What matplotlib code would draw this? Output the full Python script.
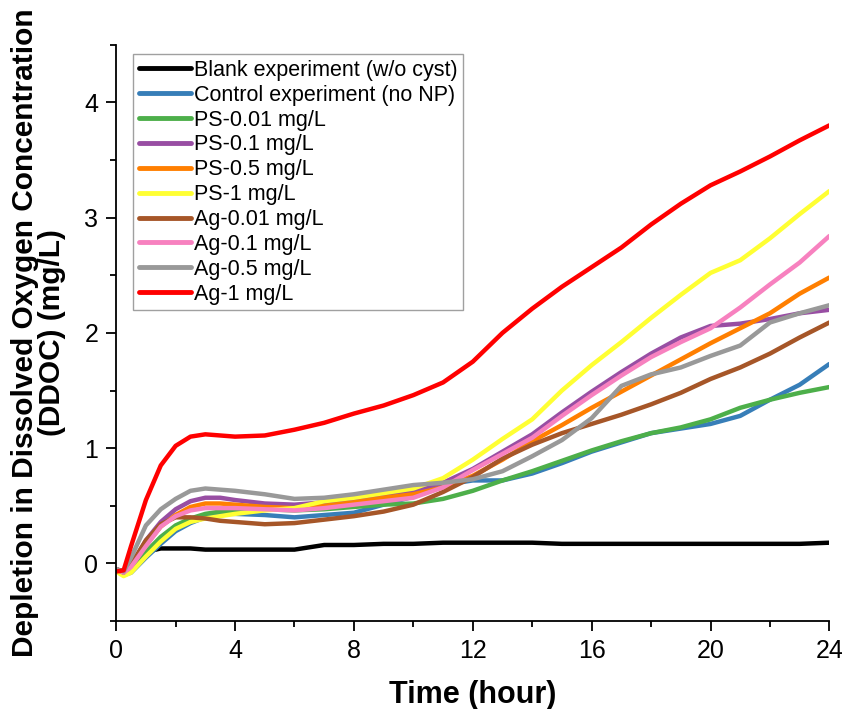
""" Depletion in dissolved oxygen concentration over 24 h """

import matplotlib
matplotlib.use('Agg')
import matplotlib.pyplot as plt
from matplotlib.ticker import MultipleLocator

# Data -----------------------------------------------------------
hours = [0, 0.25, 0.5, 1, 1.5, 2, 2.5, 3, 3.5, 4, 5, 6, 7, 8, 9, 10,
         11, 12, 13, 14, 15, 16, 17, 18, 19, 20, 21, 22, 23, 24]

blank = [-0.05, -0.07, -0.02, 0.10, 0.13, 0.13, 0.13, 0.12, 0.12, 0.12, 0.12,
         0.12, 0.16, 0.16, 0.17, 0.17, 0.18, 0.18, 0.18, 0.18, 0.17, 0.17,
         0.17, 0.17, 0.17, 0.17, 0.17, 0.17, 0.17, 0.18]
control = [-0.06, -0.10, -0.08, 0.05, 0.17, 0.28, 0.35, 0.40, 0.43, 0.43, 0.42,
           0.40, 0.42, 0.44, 0.51, 0.58, 0.68, 0.72, 0.72, 0.78, 0.87, 0.97,
           1.05, 1.13, 1.17, 1.21, 1.28, 1.42, 1.55, 1.73]
ps_001 = [-0.06, -0.09, -0.05, 0.10, 0.23, 0.33, 0.39, 0.43, 0.45, 0.46, 0.47,
          0.46, 0.47, 0.49, 0.51, 0.52, 0.56, 0.63, 0.72, 0.80, 0.89, 0.98,
          1.06, 1.13, 1.18, 1.25, 1.35, 1.42, 1.48, 1.53]
ps_01 = [-0.05, -0.08, -0.02, 0.20, 0.36, 0.47, 0.54, 0.57, 0.57, 0.55, 0.52,
         0.51, 0.53, 0.56, 0.59, 0.63, 0.70, 0.82, 0.97, 1.12, 1.31, 1.49,
         1.66, 1.82, 1.96, 2.06, 2.08, 2.12, 2.17, 2.20]
ps_05 = [-0.05, -0.08, -0.03, 0.16, 0.32, 0.42, 0.49, 0.52, 0.52, 0.51, 0.49,
         0.48, 0.50, 0.53, 0.57, 0.60, 0.66, 0.76, 0.90, 1.06, 1.20, 1.35,
         1.49, 1.63, 1.77, 1.91, 2.04, 2.17, 2.34, 2.48]
ps_1 = [-0.07, -0.11, -0.08, 0.06, 0.19, 0.30, 0.36, 0.39, 0.41, 0.43, 0.46,
        0.48, 0.54, 0.57, 0.61, 0.65, 0.74, 0.90, 1.08, 1.25, 1.50, 1.72,
        1.92, 2.13, 2.33, 2.52, 2.63, 2.82, 3.03, 3.23]
ag_001 = [-0.05, -0.08, -0.01, 0.20, 0.34, 0.40, 0.40, 0.39, 0.37, 0.36, 0.34,
          0.35, 0.38, 0.41, 0.45, 0.51, 0.62, 0.75, 0.91, 1.03, 1.13, 1.21,
          1.29, 1.38, 1.48, 1.60, 1.70, 1.82, 1.96, 2.09]
ag_01 = [-0.05, -0.08, -0.03, 0.15, 0.32, 0.41, 0.46, 0.48, 0.48, 0.48, 0.47,
         0.46, 0.48, 0.51, 0.54, 0.57, 0.66, 0.81, 0.95, 1.09, 1.28, 1.46,
         1.63, 1.79, 1.92, 2.04, 2.22, 2.42, 2.61, 2.84]
ag_05 = [-0.05, -0.07, 0.05, 0.33, 0.47, 0.56, 0.63, 0.65, 0.64, 0.63, 0.60,
         0.56, 0.57, 0.60, 0.64, 0.68, 0.70, 0.73, 0.80, 0.93, 1.07, 1.26,
         1.54, 1.64, 1.70, 1.80, 1.89, 2.09, 2.17, 2.24]
ag_1 = [-0.07, -0.06, 0.15, 0.55, 0.85, 1.02, 1.10, 1.12, 1.11, 1.10, 1.11,
        1.16, 1.22, 1.30, 1.37, 1.46, 1.57, 1.75, 2.00, 2.21, 2.40, 2.57,
        2.74, 2.94, 3.12, 3.28, 3.40, 3.53, 3.67, 3.80]

labels = ['Blank experiment (w/o cyst)', 'Control experiment (no NP)',
          'PS-0.01 mg/L', 'PS-0.1 mg/L', 'PS-0.5 mg/L', 'PS-1 mg/L',
          'Ag-0.01 mg/L', 'Ag-0.1 mg/L', 'Ag-0.5 mg/L', 'Ag-1 mg/L']
colors = ['#000000', '#377eb8', '#4daf4a', '#984ea3', '#ff7f00',
          '#ffff33', '#a65628', '#f781bf', '#999999', '#ff0000']
series = [blank, control, ps_001, ps_01, ps_05, ps_1,
          ag_001, ag_01, ag_05, ag_1]

# Figure -----------------------------------------------------------
narrow = ['Liberation Sans Narrow', 'Liberation Sans', 'DejaVu Sans']

fig = plt.figure(figsize=(8.42, 7.09), dpi=100)
ax = fig.add_axes([0.138, 0.124, 0.847, 0.813])

for values, color, label in zip(series, colors, labels):
    ax.plot(hours, values, color=color, lw=3.2, label=label,
            solid_capstyle='round', solid_joinstyle='round')

ax.set_xlim(0, 24)
ax.set_ylim(-0.5, 4.5)
ax.xaxis.set_major_locator(MultipleLocator(4))
ax.xaxis.set_minor_locator(MultipleLocator(2))
ax.yaxis.set_major_locator(MultipleLocator(1))
ax.yaxis.set_minor_locator(MultipleLocator(0.5))

for side in ['top', 'right']:
    ax.spines[side].set_visible(False)
for side in ['left', 'bottom']:
    ax.spines[side].set_linewidth(1.3)

ax.tick_params(which='major', direction='out', length=7, width=1.3,
               labelsize=18, pad=6)
ax.tick_params(which='minor', direction='out', length=4, width=1.3)
for lab in ax.get_xticklabels() + ax.get_yticklabels():
    lab.set_family(narrow)

ax.set_xlabel('Time (hour)', family=narrow, fontsize=22, fontweight='bold',
              labelpad=12)
ax.set_ylabel('Depletion in Dissolved Oxygen Concentration\n(DDOC) (mg/L)',
              family=narrow, fontsize=21.5, fontweight='bold', linespacing=0.95)
ax.yaxis.set_label_coords(-0.07, 0.5)

leg = ax.legend(loc='upper left', bbox_to_anchor=(0.024, 0.983),
                borderaxespad=0, fancybox=False,
                prop={'family': ['Liberation Sans', 'DejaVu Sans'], 'size': 15.5},
                handlelength=2.45, handletextpad=0.1, labelspacing=0.18,
                borderpad=0.25, frameon=True)
leg.get_frame().set_edgecolor('#888888')
leg.get_frame().set_linewidth(1.0)
for line in leg.get_lines():
    line.set_linewidth(3.5)

fig.savefig('out.png', dpi=100)
